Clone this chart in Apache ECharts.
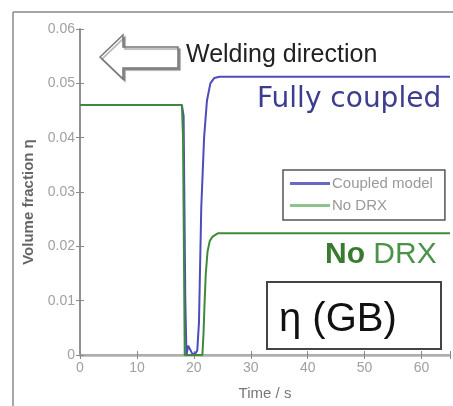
<!DOCTYPE html>
<html>
<head>
<meta charset="utf-8">
<script src="https://cdn.jsdelivr.net/npm/echarts@6/dist/echarts.min.js"></script>
<style>
html,body{margin:0;padding:0;background:#fff;}
#chart{width:453px;height:406px;}
</style>
</head>
<body>
<div id="chart"></div>
<script>
// ---- data ----
var seriesNames = ['Coupled model', 'No DRX'];
var xTicks = [0, 10, 20, 30, 40, 50, 60];
var yTicks = [0, 0.01, 0.02, 0.03, 0.04, 0.05, 0.06];
var timeCoupled = [0, 17.9, 18.2, 18.5, 18.7, 19.0, 19.3, 19.7, 20.2, 20.6, 20.9, 21.3, 21.8, 22.3, 22.9, 23.6, 24.5, 65];
var coupled     = [0.046, 0.046, 0.044, 0.010, 0.000, 0.0017, 0.0015, 0.0003, 0.0002, 0.0008, 0.006, 0.027, 0.040, 0.0468, 0.0500, 0.0510, 0.0512, 0.0512];
var timeNoDRX = [0, 17.9, 18.1, 18.4, 21.5, 21.7, 21.9, 22.1, 22.4, 22.8, 23.3, 24.2, 65];
var noDRX     = [0.046, 0.046, 0.040, 0, 0, 0.004, 0.010, 0.015, 0.019, 0.021, 0.0218, 0.0224, 0.0224];

function pairs(xs, ys) { return xs.map(function (x, i) { return [x, ys[i]]; }); }

var chart = echarts.init(document.getElementById('chart'));
var FONT = 'Liberation Sans, Arial, sans-serif';
var axisGray = '#8a8a8a';
var labelGray = '#a0a0a0';

chart.setOption({
  animation: false,
  backgroundColor: '#fff',
  grid: { left: 80, top: 29, width: 376, height: 326, containLabel: false },
  legend: {
    orient: 'vertical',
    left: 283, top: 170,
    itemWidth: 40, itemHeight: 3, itemGap: 7,
    padding: [6, 12, 7, 7],
    borderColor: '#555', borderWidth: 1.5,
    backgroundColor: '#fff',
    textStyle: { fontFamily: FONT, fontSize: 15, color: '#999', padding: [0, 0, 0, -3] },
    data: [
      { name: seriesNames[0], icon: 'rect', itemStyle: { color: '#6a6ac4' } },
      { name: seriesNames[1], icon: 'rect', itemStyle: { color: '#8cc48c' } }
    ]
  },
  xAxis: [{
    type: 'value', min: 0, max: 65, interval: 10,
    name: 'Time / s', nameLocation: 'middle', nameGap: 31,
    nameTextStyle: { fontFamily: FONT, fontSize: 15, color: '#777' },
    axisLine: { lineStyle: { color: axisGray, width: 1.5 } },
    axisTick: { inside: true, length: 4, lineStyle: { color: axisGray } },
    axisLabel: { fontFamily: FONT, fontSize: 14, color: labelGray, margin: 6,
      formatter: function (v) { return xTicks.indexOf(v) >= 0 ? String(v) : ''; } },
    splitLine: { show: false }
  }, {
    type: 'value', min: 0, max: 65, interval: 10, position: 'top',
    axisLine: { show: true, lineStyle: { color: '#b0b0b0', width: 2.5 } },
    axisTick: { inside: true, length: 4, lineStyle: { color: axisGray } },
    axisLabel: { show: false }, splitLine: { show: false }
  }],
  yAxis: [{
    type: 'value', min: 0, max: 0.06, interval: 0.01,
    name: 'Volume fraction η', nameLocation: 'middle', nameGap: 44, nameRotate: 90,
    nameTextStyle: { fontFamily: FONT, fontSize: 15, color: '#666', fontWeight: 'bold', padding: [0, 20, 0, 0] },
    axisLine: { show: true, lineStyle: { color: axisGray, width: 1.5 } },
    axisTick: { show: true, inside: true, length: 4, lineStyle: { color: axisGray } },
    axisLabel: { fontFamily: FONT, fontSize: 14, color: labelGray, margin: 5,
      formatter: function (v) {
        for (var i = 0; i < yTicks.length; i++) {
          if (Math.abs(yTicks[i] - v) < 1e-9) return yTicks[i] === 0 ? '0' : yTicks[i].toFixed(2);
        }
        return '';
      } },
    splitLine: { show: false }
  }, {
    type: 'value', min: 0, max: 0.06, interval: 0.01, position: 'right',
    axisLine: { show: true, lineStyle: { color: axisGray, width: 1.5 } },
    axisTick: { show: true, inside: true, length: 4, lineStyle: { color: axisGray } },
    axisLabel: { show: false }, splitLine: { show: false }
  }],
  series: [{
    name: seriesNames[0], type: 'line', symbol: 'none', z: 2,
    data: pairs(timeCoupled, coupled),
    lineStyle: { color: '#4c4cbc', width: 2 }, itemStyle: { color: '#6a6ac4' }
  }, {
    name: seriesNames[1], type: 'line', symbol: 'none', z: 3,
    data: pairs(timeNoDRX, noDRX),
    lineStyle: { color: '#3d8a3d', width: 2 }, itemStyle: { color: '#8cc48c' }
  }],
  graphic: [
    // outer frame
    { type: 'line', shape: { x1: 13, y1: 12, x2: 453, y2: 12 }, style: { stroke: '#888', lineWidth: 1.5 } },
    { type: 'line', shape: { x1: 13, y1: 12, x2: 13, y2: 406 }, style: { stroke: '#888', lineWidth: 1.5 } },
    // arrow
    { type: 'polygon', z: 10,
      shape: { points: [[100, 57], [123, 35], [123, 47], [178, 47], [178, 68], [123, 68], [123, 79]] },
      style: { fill: '#fff', stroke: '#777', lineWidth: 1.5, shadowColor: 'rgba(0,0,0,0.35)', shadowOffsetX: 2, shadowOffsetY: 2, shadowBlur: 1 } },
    { type: 'text', z: 10, left: 186, top: 43,
      style: { text: 'Welding direction', fontFamily: FONT, fontSize: 25, fill: '#222' } },
    { type: 'text', z: 10, left: 257, top: 86,
      style: { text: 'Fully coupled', fontFamily: 'DejaVu Sans, sans-serif', fontSize: 28, fill: '#3d3d90' } },
    { type: 'text', z: 10, left: 325, top: 240,
      style: { rich: {
        a: { fontFamily: FONT, fontSize: 30, fontWeight: 'bold', fill: '#3a7a30' },
        b: { fontFamily: FONT, fontSize: 30, fill: '#4a944a' } },
        text: '{a|No }{b|DRX}' } },
    { type: 'rect', z: 10, shape: { x: 267, y: 282, width: 174, height: 67 },
      style: { fill: '#fff', stroke: '#444', lineWidth: 2 } },
    { type: 'text', z: 11, left: 279, top: 300,
      style: { text: 'η (GB)', fontFamily: FONT, fontSize: 40, fill: '#111' } }
  ]
});
</script>
</body>
</html>
